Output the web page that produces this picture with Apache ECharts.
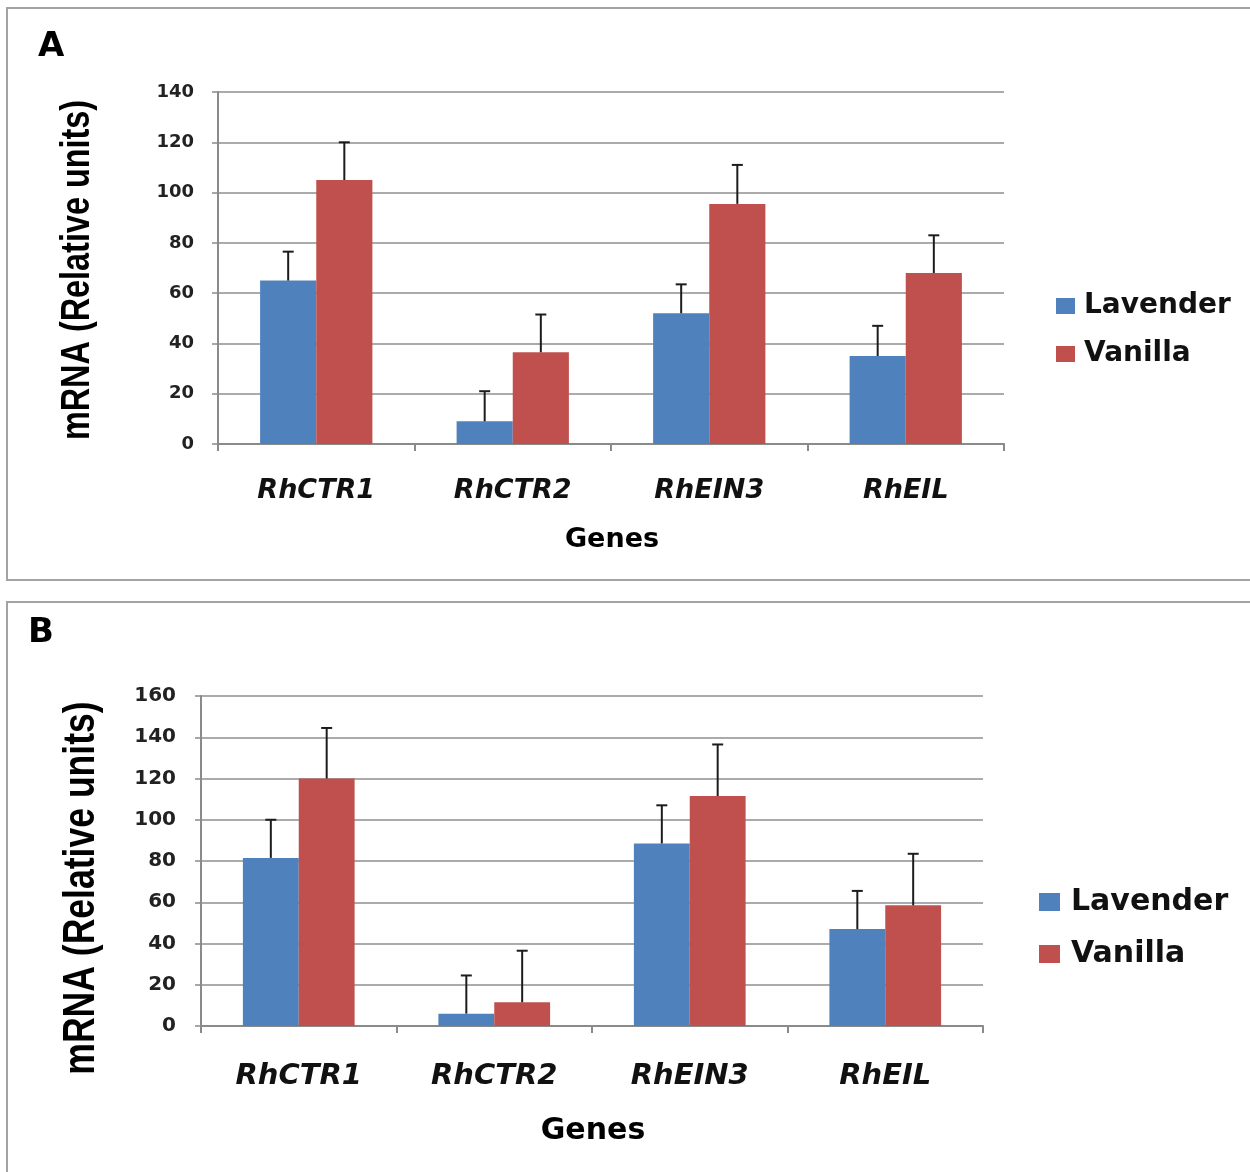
<!DOCTYPE html>
<html>
<head>
<meta charset="utf-8">
<title>mRNA relative units by gene</title>
<script src="https://cdn.jsdelivr.net/npm/echarts@6/dist/echarts.min.js"></script>
<style>
  html, body { margin: 0; padding: 0; background: #ffffff; }
  #chart { width: 1250px; height: 1172px; }
</style>
</head>
<body>
<div id="chart"></div>
<script>
// Genes on the category axis
const genes = ['RhCTR1', 'RhCTR2', 'RhEIN3', 'RhEIL'];
const seriesNames = ['Lavender', 'Vanilla'];

// Panel A: mean expression and upper error
const lavenderA = [65, 9, 52, 35];
const vanillaA = [105, 36.5, 95.5, 68];
const lavenderErrA = [11.5, 12, 11.5, 12];
const vanillaErrA = [15, 15, 15.5, 15];
const ticksA = [0, 20, 40, 60, 80, 100, 120, 140];

// Panel B: mean expression and upper error
const lavenderB = [81.5, 6, 88.5, 47];
const vanillaB = [120, 11.5, 111.5, 58.5];
const lavenderErrB = [18.5, 18.5, 18.5, 18.5];
const vanillaErrB = [24.5, 25, 25, 25];
const ticksB = [0, 20, 40, 60, 80, 100, 120, 140, 160];

const BLUE = '#4F81BD';
const RED = '#C0504D';
const GRID_GRAY = '#8f8f8f';
const AXIS_GRAY = '#8a8a8a';
const FONT = '"DejaVu Sans", Verdana, sans-serif';
const TITLE_FONT = '"Liberation Sans", Arial, sans-serif';

// Bars use an Excel-like 150% gap: each bar is band/3.5 wide, centred at ±band/7.
const GAP = '42.857%';

function errorBars(name, values, errs, side, axisIdx) {
  return {
    type: 'custom',
    name: name,
    xAxisIndex: axisIdx,
    yAxisIndex: axisIdx,
    z: 5,
    silent: true,
    data: values.map((v, i) => [i, v, errs[i]]),
    renderItem: function (params, api) {
      const idx = api.value(0);
      const val = api.value(1);
      const err = api.value(2);
      const band = api.size([1, 0])[0];
      const base = api.coord([idx, val]);
      const top = api.coord([idx, val + err]);
      const xc = base[0] + side * band / 7;
      const style = { stroke: '#1c1c1c', lineWidth: 2 };
      return {
        type: 'group',
        children: [
          { type: 'line', shape: { x1: xc, y1: base[1], x2: xc, y2: top[1] }, style: style },
          { type: 'line', shape: { x1: xc - 5.5, y1: top[1], x2: xc + 5.5, y2: top[1] }, style: style }
        ]
      };
    }
  };
}

function xAxisFor(gridIndex, fontSize, margin) {
  return {
    type: 'category',
    gridIndex: gridIndex,
    data: genes,
    axisLine: { show: true, lineStyle: { color: AXIS_GRAY, width: 2 } },
    axisTick: { show: true, length: 7, lineStyle: { color: AXIS_GRAY, width: 2 } },
    axisLabel: {
      margin: margin,
      fontFamily: FONT,
      fontWeight: 'bold',
      fontStyle: 'italic',
      fontSize: fontSize,
      color: '#111'
    }
  };
}

function yAxisFor(gridIndex, ticks, fontSize, margin) {
  return {
    type: 'value',
    gridIndex: gridIndex,
    min: ticks[0],
    max: ticks[ticks.length - 1],
    interval: ticks[1] - ticks[0],
    axisLine: { show: true, lineStyle: { color: AXIS_GRAY, width: 2 } },
    axisTick: { show: true, length: 6, lineStyle: { color: AXIS_GRAY, width: 1.5 } },
    splitLine: { show: true, lineStyle: { color: GRID_GRAY, width: 1.5 } },
    axisLabel: {
      margin: margin,
      fontFamily: FONT,
      fontWeight: 'bold',
      fontSize: fontSize,
      color: '#222'
    }
  };
}

function barSeries(name, data, color, axisIdx) {
  return {
    type: 'bar',
    name: name,
    xAxisIndex: axisIdx,
    yAxisIndex: axisIdx,
    data: data,
    barGap: '0%',
    barCategoryGap: GAP,
    itemStyle: { color: color },
    emphasis: { disabled: true }
  };
}

function legendFor(left, top, iw, ih, gap, fontSize, pad) {
  return {
    data: seriesNames,
    orient: 'vertical',
    left: left,
    top: top,
    itemWidth: iw,
    itemHeight: ih,
    itemGap: gap,
    icon: 'rect',
    textStyle: {
      fontFamily: FONT, fontWeight: 'bold', fontSize: fontSize, color: '#111',
      padding: [0, 0, 0, pad]
    },
    selectedMode: false
  };
}

const chart = echarts.init(document.getElementById('chart'), null, { renderer: 'canvas' });

chart.setOption({
  backgroundColor: '#ffffff',
  animation: false,
  grid: [
    { left: 218, right: 246, top: 92, bottom: 728 },
    { left: 201, right: 267, top: 696, bottom: 146 }
  ],
  xAxis: [xAxisFor(0, 27, 33), xAxisFor(1, 29, 36)],
  yAxis: [yAxisFor(0, ticksA, 18, 24), yAxisFor(1, ticksB, 20, 25)],
  legend: [
    legendFor(1051, 287, 19, 16, 20, 28, 4),
    legendFor(1034, 882, 21, 18, 22, 30, 6)
  ],
  series: [
    barSeries('Lavender', lavenderA, BLUE, 0),
    barSeries('Vanilla', vanillaA, RED, 0),
    errorBars('Lavender SE', lavenderA, lavenderErrA, -1, 0),
    errorBars('Vanilla SE', vanillaA, vanillaErrA, 1, 0),
    barSeries('Lavender', lavenderB, BLUE, 1),
    barSeries('Vanilla', vanillaB, RED, 1),
    errorBars('Lavender SE', lavenderB, lavenderErrB, -1, 1),
    errorBars('Vanilla SE', vanillaB, vanillaErrB, 1, 1)
  ],
  graphic: [
    // panel frames
    { type: 'rect', shape: { x: 7, y: 8, width: 1262, height: 572 },
      style: { fill: 'none', stroke: '#a3a3a3', lineWidth: 2 }, z: -1 },
    { type: 'rect', shape: { x: 7, y: 602, width: 1262, height: 600 },
      style: { fill: 'none', stroke: '#a3a3a3', lineWidth: 2 }, z: -1 },
    // panel letters
    { type: 'text', x: 38, y: 30,
      style: { text: 'A', font: 'bold 34px ' + FONT, fill: '#000' } },
    { type: 'text', x: 28, y: 616,
      style: { text: 'B', font: 'bold 34px ' + FONT, fill: '#000' } },
    // y-axis titles, condensed along the text direction
    { type: 'text', x: 78, y: 270, rotation: Math.PI / 2, scaleX: 0.79, scaleY: 1,
      style: { text: 'mRNA (Relative units)', font: 'bold 41px ' + TITLE_FONT, fill: '#000',
               textAlign: 'center', textVerticalAlign: 'middle' } },
    { type: 'text', x: 82, y: 888, rotation: Math.PI / 2, scaleX: 0.79, scaleY: 1,
      style: { text: 'mRNA (Relative units)', font: 'bold 45px ' + TITLE_FONT, fill: '#000',
               textAlign: 'center', textVerticalAlign: 'middle' } },
    // x-axis titles
    { type: 'text', x: 612, y: 540,
      style: { text: 'Genes', font: 'bold 27px ' + FONT, fill: '#000',
               textAlign: 'center', textVerticalAlign: 'middle' } },
    { type: 'text', x: 593, y: 1131,
      style: { text: 'Genes', font: 'bold 30px ' + FONT, fill: '#000',
               textAlign: 'center', textVerticalAlign: 'middle' } }
  ]
});
</script>
</body>
</html>
